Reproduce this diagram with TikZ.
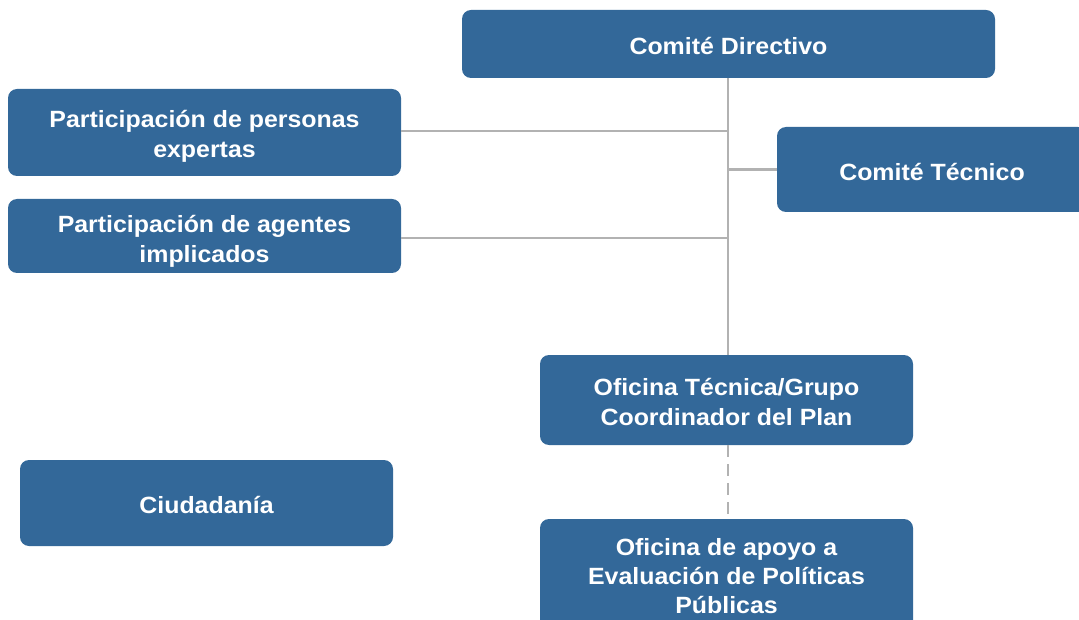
\documentclass[tikz,border=0pt]{standalone}
\usepackage{fontspec}
\setmainfont{Liberation Sans}[FakeStretch=1.06]
\definecolor{boxblue}{RGB}{51,104,153}
\definecolor{linegray}{RGB}{178,178,178}
\begin{document}
\begin{tikzpicture}[x=1pt,y=-1pt,
  orgbox/.style={draw=none,fill=boxblue,rounded corners=9pt,inner sep=0pt},
  orgtext/.style={text=white,font=\fontsize{23.5}{30}\selectfont\bfseries,
    align=center,inner sep=0pt},
  conn/.style={draw=linegray,line width=2.4pt},
  dashconn/.style={conn,dash pattern=on 12pt off 7pt}]
\useasboundingbox (0,0) rectangle (1079,620);
\clip (0,0) rectangle (1079,620);
% boxes
\node[orgbox,minimum width=533pt,minimum height=68pt] (cd) at (728.5,44) {};
\node[orgbox,minimum width=393pt,minimum height=87pt] (pe) at (204.5,132.5) {};
\node[orgbox,minimum width=310pt,minimum height=85pt] (ct) at (932,169.5) {};
\node[orgbox,minimum width=393pt,minimum height=74pt] (pa) at (204.5,236) {};
\node[orgbox,minimum width=373pt,minimum height=90pt] (ot) at (726.5,400) {};
\node[orgbox,minimum width=373pt,minimum height=86pt] (ci) at (206.5,503) {};
\node[orgbox,minimum width=373pt,minimum height=114pt] (oa) at (726.5,576) {};
% texts
\node[orgtext,yshift=-2pt] (cdt) at (cd.center) {Comité Directivo};
\node[orgtext,yshift=-4pt] (pet) at (pe.center) {Participación de personas\\expertas};
\node[orgtext,yshift=-2pt] (ctt) at (ct.center) {Comité Técnico};
\node[orgtext,yshift=-5pt] (pat) at (pa.center) {Participación de agentes\\implicados};
\node[orgtext,yshift=-1.5pt] (ott) at (ot.center) {Oficina Técnica/Grupo\\Coordinador del Plan};
\node[orgtext,yshift=-2pt] (cit) at (ci.center) {Ciudadanía};
\node[orgtext,font=\fontsize{23.5}{29}\selectfont\bfseries] (oat) at (oa.center) {Oficina de apoyo a\\Evaluación de Políticas\\Públicas};
% connectors
\coordinate (vx) at (728,0);
\draw[conn] (cd.south -| vx) -- (ot.north -| vx);
\draw[conn] ([yshift=1.5pt]pe.east) -- ([yshift=1.5pt]pe.east -| vx);
\draw[conn] (ct.west) -- (ct.west -| vx);
\draw[conn] ([yshift=-2pt]pa.east) -- ([yshift=-2pt]pa.east -| vx);
\draw[dashconn] (ot.south -| vx) -- (oa.north -| vx);
\end{tikzpicture}
\end{document}
